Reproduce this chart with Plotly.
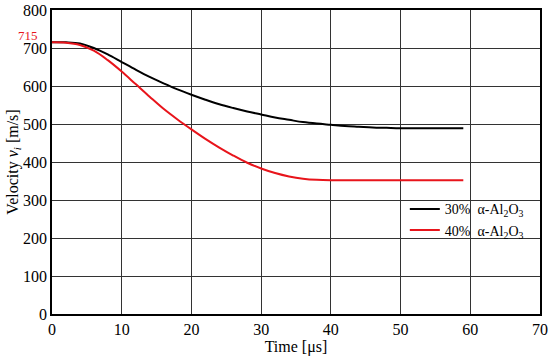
import plotly.graph_objects as go

t_black = [0, 2, 4, 6, 8, 10, 12, 14, 16, 18, 20, 22, 24, 26, 28, 30, 32, 34, 36, 38, 40, 42, 44, 46, 48, 50, 55, 59]
v_black = [715, 715, 712, 700, 683, 663, 643, 624, 607, 591, 577, 564, 552, 542, 533, 525, 517, 511, 505, 501, 498, 495, 493, 491, 490, 489, 489, 489]

t_red = [0, 2, 4, 6, 8, 10, 12, 14, 16, 18, 20, 22, 24, 26, 28, 30, 32, 34, 36, 38, 40, 45, 50, 55, 59]
v_red = [715, 714, 708, 693, 668, 638, 605, 572, 540, 512, 486, 461, 438, 417, 398, 383, 371, 362, 356, 353, 352, 352, 352, 352, 352]

x_ticks = [0, 10, 20, 30, 40, 50, 60, 70]
y_ticks = [0, 100, 200, 300, 400, 500, 600, 700, 800]
names = ["30%  α-Al<sub>2</sub>O<sub>3</sub>", "40%  α-Al<sub>2</sub>O<sub>3</sub>"]
init_label = "715"

font = "Times New Roman, Liberation Serif, serif"

fig = go.Figure()
fig.add_trace(go.Scatter(x=t_black, y=v_black, mode="lines", name=names[0],
                         line=dict(color="black", width=2, shape="spline")))
fig.add_trace(go.Scatter(x=t_red, y=v_red, mode="lines", name=names[1],
                         line=dict(color="#e8141b", width=2, shape="spline")))

fig.add_annotation(x=0, y=int(init_label), xref="x", yref="y", text=init_label,
                   showarrow=False, xanchor="right", yanchor="bottom", xshift=-12, yshift=-3,
                   font=dict(color="#e8141b", size=13, family=font))

axis_common = dict(showgrid=True, gridcolor="#333333", gridwidth=1,
                   showline=True, linecolor="black", linewidth=1.5, mirror=True,
                   ticks="", zeroline=False,
                   tickfont=dict(size=16, family=font, color="black"))

fig.update_layout(
    width=550, height=360,
    margin=dict(l=52, r=10, t=10, b=46),
    paper_bgcolor="white", plot_bgcolor="white",
    font=dict(family=font, color="black", size=16),
    xaxis=dict(range=[0, 70], tickvals=x_ticks, automargin="bottom",
               title=dict(text="Time [μs]", font=dict(size=16, family=font), standoff=2),
               **axis_common),
    yaxis=dict(range=[0, 800], tickvals=y_ticks, automargin="left",
               title=dict(text="Velocity <i>v</i><sub><i>i</i></sub> [m/s]", font=dict(size=16, family=font), standoff=0),
               **axis_common),
    legend=dict(x=0.723, y=0.397, xanchor="left", yanchor="top",
                bgcolor="rgba(0,0,0,0)", font=dict(size=14, family=font),
                tracegroupgap=0, itemwidth=30),
    showlegend=True,
)

fig.write_html("out.html", config={"displayModeBar": False},
               post_script="document.body.style.margin='0px';")
